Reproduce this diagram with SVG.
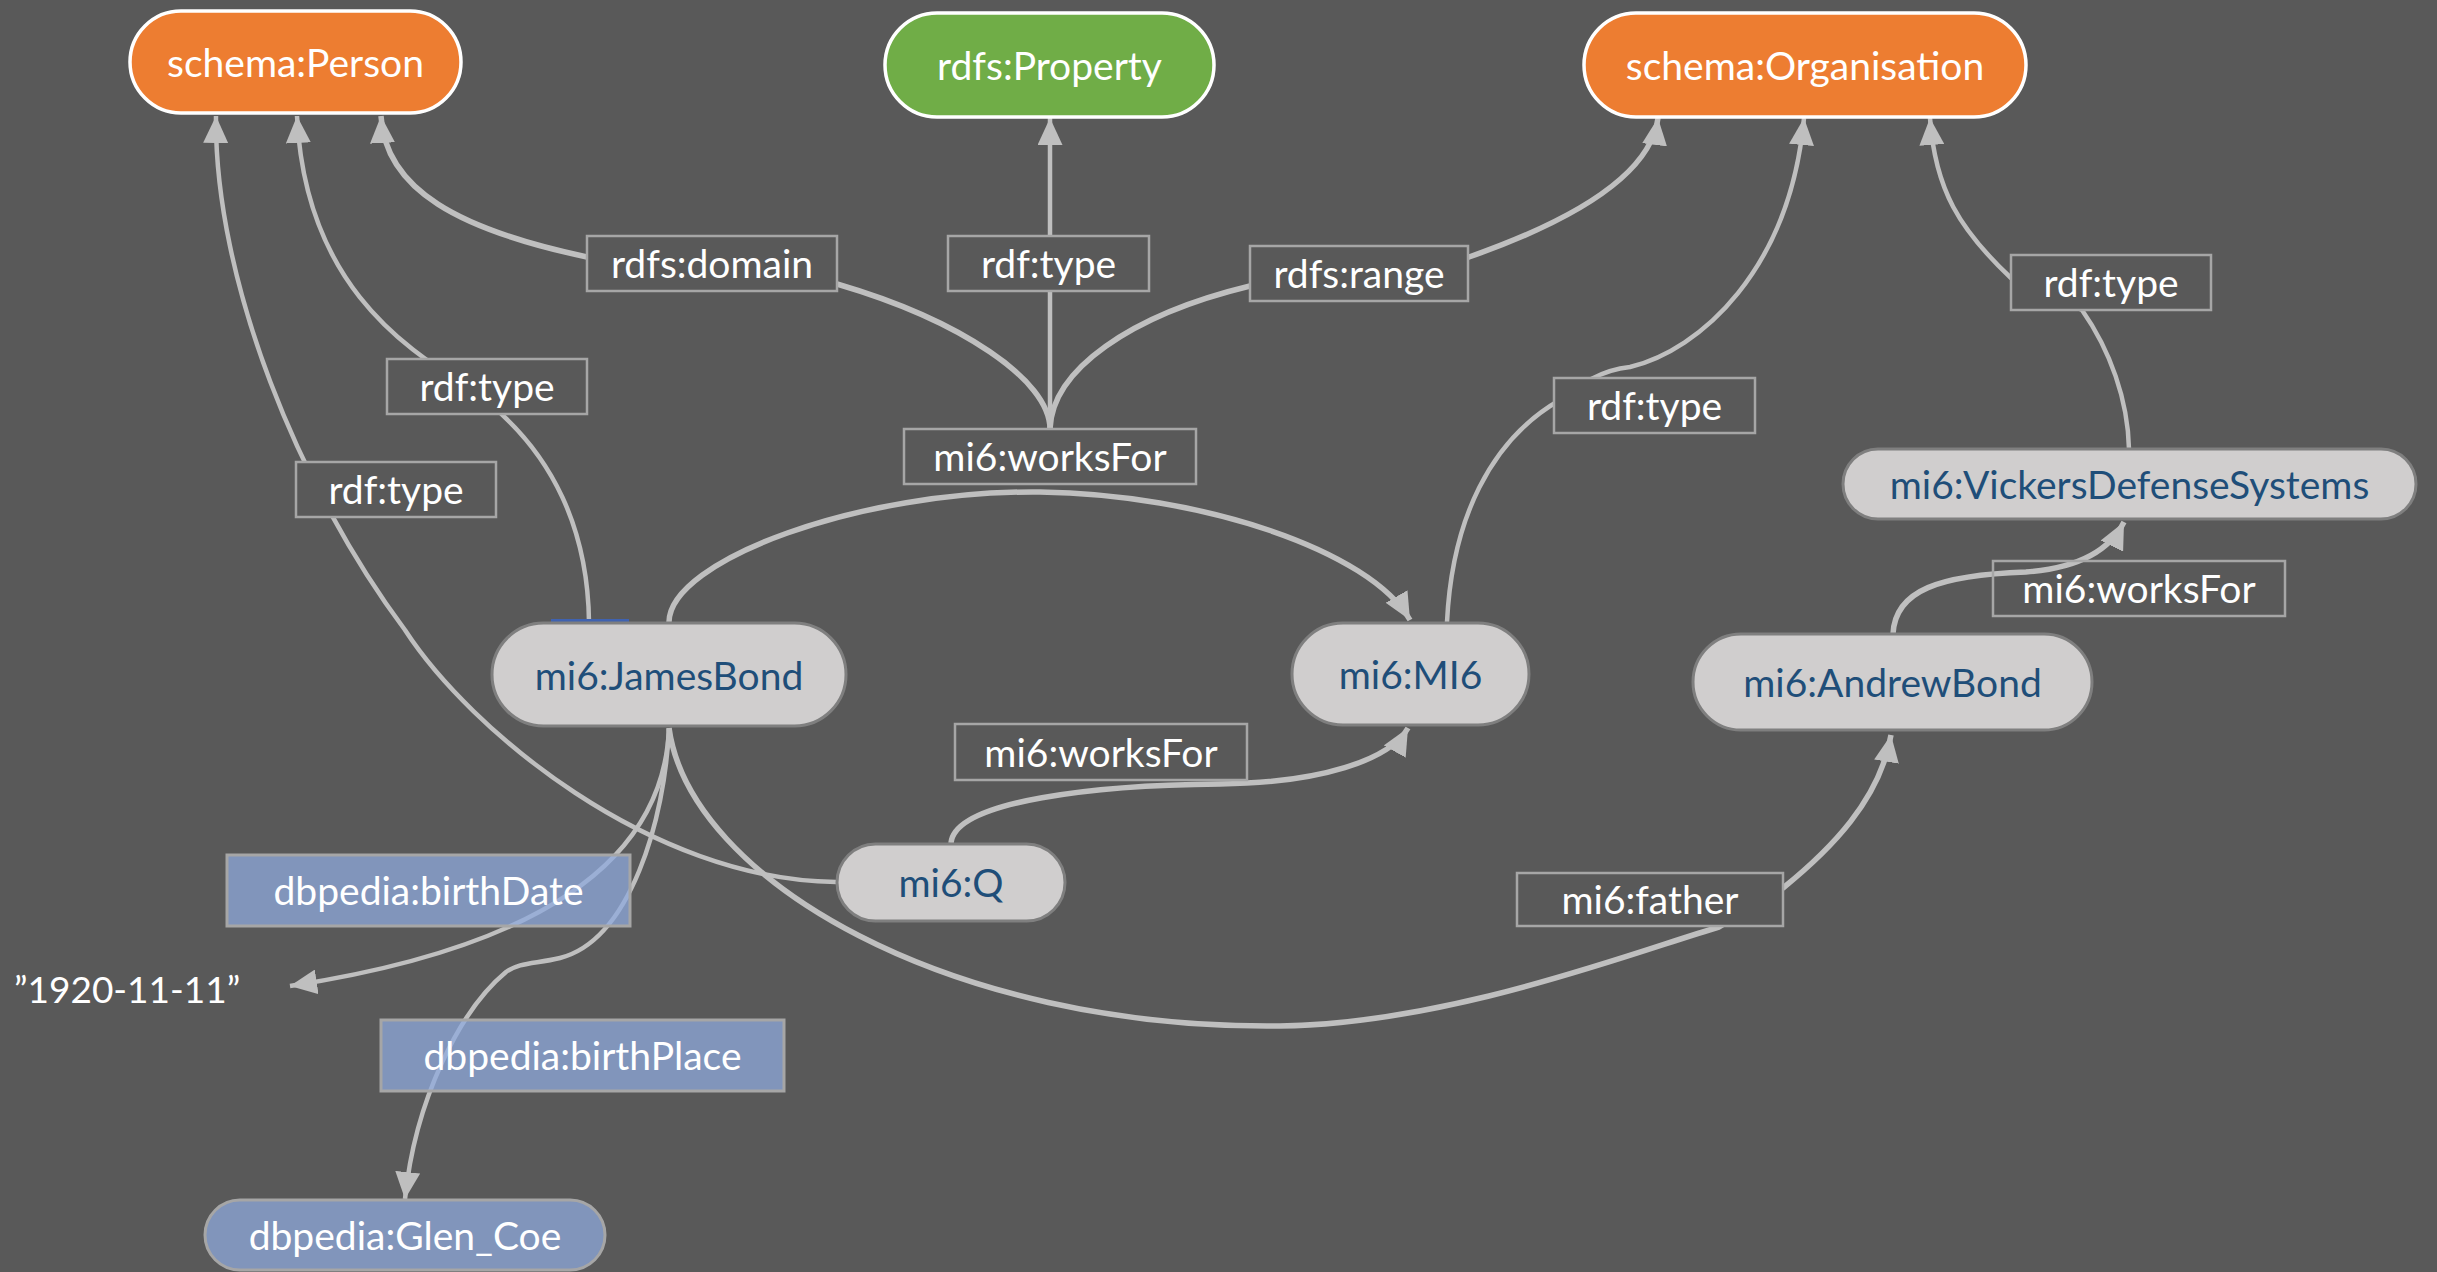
<svg xmlns="http://www.w3.org/2000/svg" width="2437" height="1272" viewBox="0 0 2437 1272">
<style>
.t{font-family:Lato,"Liberation Sans",sans-serif;font-size:39px;text-anchor:middle;fill:#ffffff}
.ti{fill:#1F4E79}
.cls{stroke:#ffffff;stroke-width:3.5}
.inst{fill:#D0CECE;stroke:#7F7F7F;stroke-width:3}
.db{fill:#8FAADC;fill-opacity:0.75;stroke:#A6A6A6;stroke-width:3}
.lbl{fill:#595959;stroke:#A6A6A6;stroke-width:2.5}
.c{fill:none;stroke:#BFBFBF;stroke-width:4.5}
.w{stroke-width:5.5}
</style>
<defs>
<marker id="arr" viewBox="0 0 27 25" refX="27" refY="12.5" markerWidth="27" markerHeight="25" markerUnits="userSpaceOnUse" orient="auto">
<path d="M0,0 L27,12.5 L0,25 z" fill="#BFBFBF"/>
</marker>
</defs>
<rect x="0" y="0" width="2437" height="1272" fill="#595959"/>
<g id="connectors">
<path class="c" d="M589 622 C588 540 560 450 466 386 C400 345 305 280 297 116" marker-end="url(#arr)"/>
<path class="c" d="M836 882 C650 880 470 730 405 630 C300 490 214 280 216 116" marker-end="url(#arr)"/>
<path class="c" d="M1050 429 L1050 118" marker-end="url(#arr)"/>
<path class="c w" d="M1050 429 C1050 380 960 320 837 284 L587 257 C460 230 385 190 381 116" marker-end="url(#arr)"/>
<path class="c w" d="M1050 429 C1052 370 1130 315 1250 286 L1469 257 C1560 225 1650 180 1658 118" marker-end="url(#arr)"/>
<path class="c w" d="M669 622 C670 560 860 490 1040 492 C1200 494 1370 550 1410 620" marker-end="url(#arr)"/>
<path class="c" d="M1447 622 C1452 520 1490 440 1560 400 C1580 385 1600 370 1630 367 C1700 350 1790 270 1804 118" marker-end="url(#arr)"/>
<path class="c" d="M2129 449 C2128 400 2110 350 2082 310 L2011 278 C1960 230 1935 190 1930 118" marker-end="url(#arr)"/>
<path class="c w" d="M1893 634 C1895 590 1940 575 2026 572 C2080 568 2110 550 2124 522" marker-end="url(#arr)"/>
<path class="c w" d="M951 843 C955 800 1100 785 1220 784 C1320 783 1390 760 1408 728" marker-end="url(#arr)"/>
<path class="c w" d="M669 728 C690 880 950 1030 1280 1026 C1450 1024 1640 950 1719 927 L1783 888 C1830 850 1880 800 1891 735" marker-end="url(#arr)"/>
<path class="c" d="M669 728 C665 830 590 940 290 986" marker-end="url(#arr)"/>
<path class="c" d="M669 728 C665 820 630 940 560 958 C535 964 520 962 506 972 C460 1010 415 1100 405 1199" marker-end="url(#arr)"/>
</g>
<g id="schemaPerson"><rect class="cls" x="130" y="11" width="331" height="102" rx="51" fill="#ED7D31"/><text class="t" x="295.5" y="77">schema:Person</text></g>
<g id="rdfsProperty"><rect class="cls" x="885" y="13" width="329" height="104" rx="52" fill="#70AD47"/><text class="t" x="1049.5" y="80">rdfs:Property</text></g>
<g id="schemaOrganisation"><rect class="cls" x="1584" y="13" width="442" height="104" rx="52" fill="#ED7D31"/><text class="t" x="1805" y="80">schema:Organisation</text></g>
<g id="JamesBond"><rect x="551" y="619" width="78" height="4" fill="#3F62B0"/><rect class="inst" x="492" y="623" width="354" height="103" rx="51.5"/><text class="t ti" x="669" y="690">mi6:JamesBond</text></g>
<g id="MI6"><rect class="inst" x="1292" y="623" width="237" height="102" rx="51"/><text class="t ti" x="1410.5" y="689">mi6:MI6</text></g>
<g id="AndrewBond"><rect class="inst" x="1693" y="634" width="399" height="96" rx="48"/><text class="t ti" x="1892.5" y="697">mi6:AndrewBond</text></g>
<g id="Vickers"><rect class="inst" x="1843" y="449" width="573" height="70" rx="35"/><text class="t ti" x="2129.5" y="499">mi6:VickersDefenseSystems</text></g>
<g id="Q"><rect class="inst" x="837" y="844" width="228" height="77" rx="38.5"/><text class="t ti" x="951" y="897">mi6:Q</text></g>
<g id="GlenCoe"><rect class="db" x="205" y="1200" width="400" height="70" rx="35"/><text class="t" x="405" y="1250">dbpedia:Glen_Coe</text></g>
<g id="lit1920"><text class="t" x="14" y="1003" style="text-anchor:start;font-size:37px">”1920-11-11”</text></g>
<g id="lbl-domain"><rect class="lbl" x="587" y="236" width="250" height="55"/><text class="t" x="712" y="278">rdfs:domain</text></g>
<g id="lbl-type-prop"><rect class="lbl" x="948" y="236" width="201" height="55"/><text class="t" x="1048.5" y="278">rdf:type</text></g>
<g id="lbl-range"><rect class="lbl" x="1250" y="246" width="218" height="55"/><text class="t" x="1359" y="288">rdfs:range</text></g>
<g id="lbl-type-jb"><rect class="lbl" x="387" y="359" width="200" height="55"/><text class="t" x="487" y="401">rdf:type</text></g>
<g id="lbl-type-q"><rect class="lbl" x="296" y="462" width="200" height="55"/><text class="t" x="396" y="504">rdf:type</text></g>
<g id="lbl-worksFor-prop"><rect class="lbl" x="904" y="429" width="292" height="55"/><text class="t" x="1050" y="471">mi6:worksFor</text></g>
<g id="lbl-type-mi6"><rect class="lbl" x="1554" y="378" width="201" height="55"/><text class="t" x="1654.5" y="420">rdf:type</text></g>
<g id="lbl-type-vickers"><rect class="lbl" x="2011" y="255" width="200" height="55"/><text class="t" x="2111" y="297">rdf:type</text></g>
<g id="lbl-worksFor-ab"><rect class="lbl" x="1993" y="561" width="292" height="55" style="fill:none"/><text class="t" x="2139" y="603">mi6:worksFor</text></g>
<g id="lbl-worksFor-q"><rect class="lbl" x="955" y="724" width="292" height="56"/><text class="t" x="1101" y="767">mi6:worksFor</text></g>
<g id="lbl-father"><rect class="lbl" x="1517" y="873" width="266" height="53"/><text class="t" x="1650" y="914">mi6:father</text></g>
<g id="lbl-birthDate"><rect class="db" x="227" y="855" width="403" height="71"/><text class="t" x="428.5" y="905">dbpedia:birthDate</text></g>
<g id="lbl-birthPlace"><rect class="db" x="381" y="1020" width="403" height="71"/><text class="t" x="582.5" y="1070">dbpedia:birthPlace</text></g>
</svg>
